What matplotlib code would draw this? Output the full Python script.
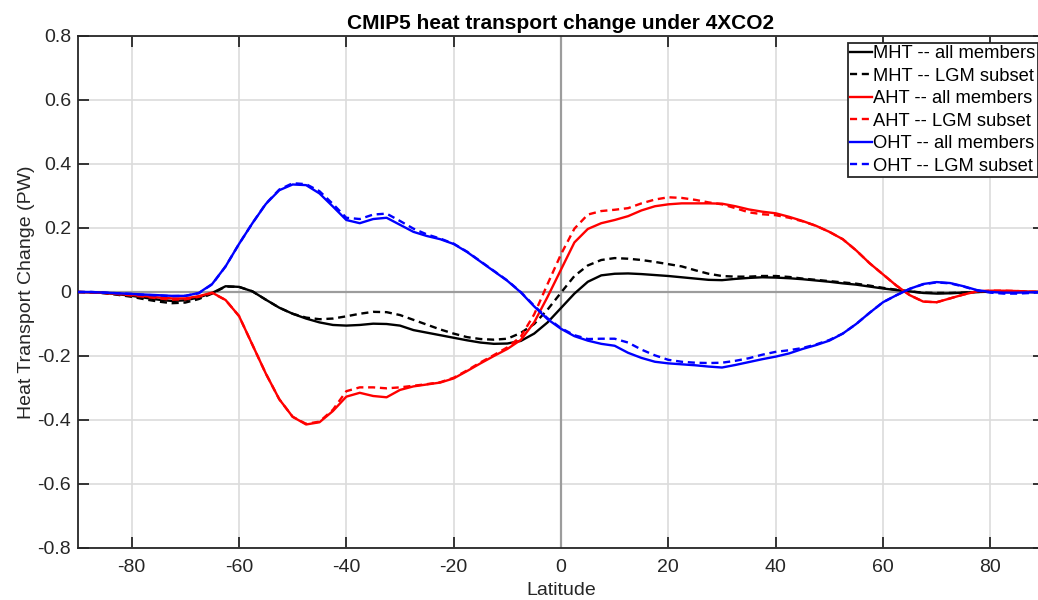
"""Heat transport change under 4xCO2, zonal profiles of MHT / AHT / OHT."""

import matplotlib

matplotlib.use("Agg")
import matplotlib.pyplot as plt
from matplotlib.ticker import FuncFormatter

plt.rcParams["font.family"] = ["Liberation Sans", "DejaVu Sans"]
plt.rcParams["axes.unicode_minus"] = False

# latitude grid (degrees)
lat = [
    -90, -87.5, -85, -82.5, -80, -77.5, -75, -72.5, -70, -67.5, -65, -62.5,
    -60, -57.5, -55, -52.5, -50, -47.5, -45, -42.5, -40, -37.5, -35, -32.5,
    -30, -27.5, -25, -22.5, -20, -17.5, -15, -12.5, -10, -7.5, -5, -2.5,
    0, 2.5, 5, 7.5, 10, 12.5, 15, 17.5, 20, 22.5, 25, 27.5,
    30, 32.5, 35, 37.5, 40, 42.5, 45, 47.5, 50, 52.5, 55, 57.5,
    60, 62.5, 65, 67.5, 70, 72.5, 75, 77.5, 80, 82.5, 85, 87.5, 90,
]

# heat transport change (PW)
mht_all = [
    0, -0.001, -0.003, -0.007, -0.012, -0.018, -0.024, -0.028, -0.026, -0.017, -0.003, 0.018,
    0.016, 0.002, -0.024, -0.049, -0.068, -0.083, -0.095, -0.103, -0.105, -0.103, -0.099, -0.100,
    -0.105, -0.119, -0.127, -0.135, -0.143, -0.151, -0.158, -0.162, -0.161, -0.153, -0.130, -0.095,
    -0.050, -0.005, 0.032, 0.052, 0.057, 0.058, 0.056, 0.053, 0.050, 0.046, 0.042, 0.038,
    0.037, 0.041, 0.044, 0.046, 0.045, 0.043, 0.040, 0.036, 0.032, 0.027, 0.023, 0.017,
    0.011, 0.006, 0.002, -0.003, -0.005, -0.004, -0.002, 0, 0.001, 0.001, 0.001, 0, 0,
]
mht_lgm = [
    0, -0.001, -0.004, -0.009, -0.015, -0.023, -0.030, -0.035, -0.033, -0.022, -0.005, 0.017,
    0.016, 0.002, -0.024, -0.049, -0.068, -0.080, -0.085, -0.083, -0.076, -0.068, -0.062, -0.063,
    -0.072, -0.087, -0.102, -0.117, -0.130, -0.141, -0.147, -0.149, -0.146, -0.128, -0.100, -0.055,
    -0.002, 0.050, 0.083, 0.100, 0.106, 0.104, 0.100, 0.094, 0.087, 0.080, 0.068, 0.057,
    0.050, 0.048, 0.048, 0.050, 0.050, 0.047, 0.042, 0.038, 0.034, 0.030, 0.026, 0.020,
    0.013, 0.007, 0.002, -0.002, -0.003, -0.003, -0.002, 0, 0.001, 0.001, 0.001, 0, 0,
]
aht_all = [
    0, -0.001, -0.003, -0.006, -0.009, -0.013, -0.017, -0.020, -0.020, -0.013, -0.002, -0.025,
    -0.075, -0.165, -0.255, -0.335, -0.390, -0.414, -0.407, -0.372, -0.327, -0.315, -0.325, -0.329,
    -0.306, -0.295, -0.289, -0.283, -0.270, -0.247, -0.223, -0.200, -0.178, -0.150, -0.095, -0.015,
    0.070, 0.155, 0.197, 0.215, 0.225, 0.237, 0.255, 0.268, 0.274, 0.277, 0.277, 0.277,
    0.276, 0.268, 0.258, 0.251, 0.246, 0.235, 0.222, 0.207, 0.188, 0.165, 0.130, 0.090,
    0.055, 0.020, -0.010, -0.030, -0.032, -0.020, -0.008, 0.002, 0.004, 0.004, 0.003, 0.001, 0,
]
aht_lgm = [
    0, -0.001, -0.003, -0.007, -0.011, -0.015, -0.020, -0.024, -0.023, -0.015, -0.003, -0.025,
    -0.075, -0.165, -0.255, -0.335, -0.390, -0.412, -0.405, -0.368, -0.310, -0.298, -0.298, -0.301,
    -0.298, -0.293, -0.288, -0.282, -0.268, -0.245, -0.220, -0.197, -0.173, -0.140, -0.070, 0.025,
    0.118, 0.198, 0.242, 0.253, 0.257, 0.262, 0.277, 0.289, 0.296, 0.294, 0.288, 0.280,
    0.274, 0.262, 0.249, 0.243, 0.240, 0.232, 0.221, 0.207, 0.188, 0.165, 0.130, 0.090,
    0.055, 0.020, -0.010, -0.030, -0.032, -0.020, -0.008, 0.002, 0.004, 0.004, 0.003, 0.001, 0,
]
oht_all = [
    0, 0, -0.002, -0.004, -0.006, -0.008, -0.010, -0.012, -0.012, -0.003, 0.025, 0.080,
    0.150, 0.215, 0.275, 0.318, 0.336, 0.334, 0.308, 0.267, 0.225, 0.215, 0.228, 0.232,
    0.210, 0.188, 0.175, 0.165, 0.150, 0.125, 0.095, 0.065, 0.035, -0.001, -0.045, -0.085,
    -0.115, -0.138, -0.152, -0.162, -0.168, -0.190, -0.206, -0.218, -0.223, -0.226, -0.229, -0.233,
    -0.236, -0.228, -0.219, -0.210, -0.202, -0.192, -0.178, -0.166, -0.152, -0.130, -0.100, -0.065,
    -0.032, -0.010, 0.010, 0.025, 0.031, 0.028, 0.018, 0.006, 0, -0.002, -0.002, -0.001, 0,
]
oht_lgm = [
    0, 0, -0.002, -0.004, -0.006, -0.009, -0.011, -0.013, -0.012, -0.004, 0.024, 0.080,
    0.150, 0.215, 0.276, 0.320, 0.340, 0.337, 0.315, 0.275, 0.232, 0.228, 0.242, 0.245,
    0.222, 0.198, 0.180, 0.167, 0.151, 0.126, 0.096, 0.066, 0.036, 0, -0.043, -0.082,
    -0.113, -0.135, -0.147, -0.146, -0.146, -0.158, -0.180, -0.198, -0.212, -0.218, -0.221, -0.222,
    -0.221, -0.215, -0.207, -0.196, -0.187, -0.182, -0.175, -0.164, -0.150, -0.130, -0.100, -0.065,
    -0.032, -0.010, 0.010, 0.024, 0.030, 0.027, 0.017, 0.005, -0.002, -0.005, -0.005, -0.003, 0,
]

xticks = [-80, -60, -40, -20, 0, 20, 40, 60, 80]
yticks = [-0.8, -0.6, -0.4, -0.2, 0, 0.2, 0.4, 0.6, 0.8]

axis_color = "#262626"

fig = plt.figure(figsize=(10.38, 6), dpi=100)
# right edge of the box runs slightly past the figure border
ax = fig.add_axes([78 / 1038, 52 / 600, 966 / 1038, 512 / 600])

ax.axhline(0, color="#9c9c9c", lw=1.6, zorder=1.5)
ax.axvline(0, color="#9c9c9c", lw=1.6, zorder=1.5)

lw = 1.7
dash = (3, 2)
ax.plot(lat, mht_all, color="k", lw=lw, label="MHT -- all members", zorder=3)
ax.plot(lat, mht_lgm, color="k", lw=lw, dashes=dash, label="MHT -- LGM subset", zorder=3)
ax.plot(lat, aht_all, color="#ff0000", lw=lw, label="AHT -- all members", zorder=3)
ax.plot(lat, aht_lgm, color="#ff0000", lw=lw, dashes=dash, label="AHT -- LGM subset", zorder=3)
ax.plot(lat, oht_all, color="#0000ff", lw=lw, label="OHT -- all members", zorder=3)
ax.plot(lat, oht_lgm, color="#0000ff", lw=lw, dashes=dash, label="OHT -- LGM subset", zorder=3)

ax.set_xlim(-90, 90)
ax.set_ylim(-0.8, 0.8)
ax.set_xticks(xticks)
ax.set_yticks(yticks)
ax.yaxis.set_major_formatter(FuncFormatter(lambda v, _: f"{v:g}"))
ax.xaxis.set_major_formatter(FuncFormatter(lambda v, _: f"{v:g}"))
ax.grid(True, color="#dcdcdc", lw=1.2, zorder=0)
ax.set_axisbelow(True)

ax.tick_params(direction="in", length=8, width=1.3, top=True, right=True,
               labelsize=14, colors=axis_color)
ax.tick_params(axis="x", pad=8)
ax.tick_params(axis="y", pad=5)
for side in ax.spines.values():
    side.set_color(axis_color)
    side.set_linewidth(1.3)

ax.set_xlabel("Latitude", fontsize=14, color=axis_color, labelpad=4)
ax.set_ylabel("Heat Transport Change (PW)", fontsize=14, color=axis_color, labelpad=2)
ax.set_title("CMIP5 heat transport change under 4XCO2", fontsize=15,
             fontweight="bold", color="k", pad=5)

leg = ax.legend(loc="upper right", bbox_to_anchor=(1037 / 1044, 0.986),
                fontsize=13.2, frameon=True, fancybox=False, framealpha=1,
                edgecolor=axis_color, handlelength=1.2, handletextpad=0.05,
                borderpad=0.12, borderaxespad=0, labelspacing=0.3)
leg.get_frame().set_linewidth(1.3)

fig.savefig("out.png", dpi=100)
plt.close(fig)
